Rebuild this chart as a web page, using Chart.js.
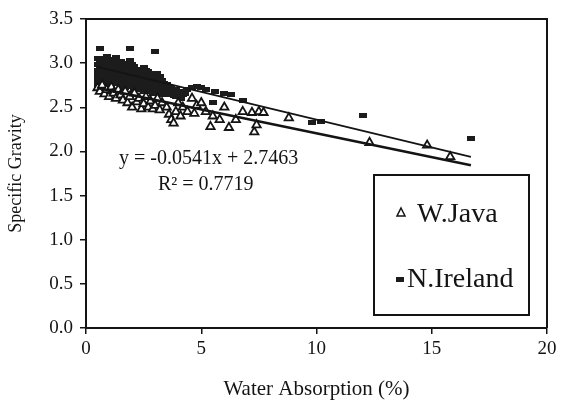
<!DOCTYPE html>
<html>
<head>
<meta charset="utf-8">
<script src="https://cdn.jsdelivr.net/npm/chart.js@4"></script>
<style>
  html, body { margin: 0; padding: 0; background: #fff; }
  #wrap { width: 562px; height: 409px; }
</style>
</head>
<body>
<div id="wrap"><canvas id="sgChart" width="562" height="409"></canvas></div>
<script>
// Specific gravity vs water absorption, W.Java and N.Ireland aggregates

const xTicks = [0, 5, 10, 15, 20];
const yTicks = [0, 0.5, 1, 1.5, 2, 2.5, 3, 3.5];

// W.Java (triangles)
const javaX = [0.5, 0.6, 0.7, 0.8, 0.9, 1.0, 1.1, 1.2, 1.3, 1.4, 1.5, 1.6, 1.7, 1.8, 1.9,
  2.0, 2.1, 2.2, 2.3, 2.4, 2.5, 2.6, 2.7, 2.8, 2.9, 3.0, 3.1, 3.2, 3.3, 3.5,
  3.6, 3.7, 3.8, 3.9, 4.0, 4.1, 4.2, 4.4, 4.6, 4.7, 4.8, 5.0, 5.2, 5.4, 5.5,
  5.8, 6.0, 6.2, 6.5, 6.8, 7.2, 7.3, 7.4, 7.5, 7.7, 8.8, 12.3, 14.8, 15.8];
const javaY = [2.72, 2.68, 2.75, 2.65, 2.70, 2.62, 2.73, 2.66, 2.60, 2.70, 2.64, 2.58, 2.68, 2.55, 2.62,
  2.50, 2.66, 2.56, 2.60, 2.48, 2.54, 2.62, 2.50, 2.57, 2.48, 2.52, 2.60, 2.47, 2.55, 2.50,
  2.42, 2.36, 2.32, 2.45, 2.55, 2.40, 2.50, 2.45, 2.60, 2.43, 2.52, 2.55, 2.45, 2.28, 2.40,
  2.36, 2.50, 2.27, 2.36, 2.45, 2.44, 2.22, 2.30, 2.45, 2.44, 2.38, 2.10, 2.07, 1.94];

// N.Ireland (dashes)
const irelandX = [0.6, 1.9, 3.0,
  0.5, 0.5, 0.5, 0.5, 0.5, 0.5,
  0.6, 0.6, 0.6, 0.6,
  0.7, 0.7, 0.7, 0.7, 0.7,
  0.8, 0.8, 0.8, 0.8, 0.8,
  0.9, 0.9, 0.9, 0.9, 0.9,
  1.0, 1.0, 1.0, 1.0,
  1.1, 1.1, 1.1, 1.1, 1.1,
  1.2, 1.2, 1.2, 1.2,
  1.3, 1.3, 1.3, 1.3, 1.3,
  1.4, 1.4, 1.4, 1.4,
  1.5, 1.5, 1.5, 1.5, 1.5,
  1.6, 1.6, 1.6, 1.6,
  1.7, 1.7, 1.7, 1.7, 1.7,
  1.8, 1.8, 1.8, 1.8,
  1.9, 1.9, 1.9, 1.9, 1.9,
  2.0, 2.0, 2.0, 2.0,
  2.1, 2.1, 2.1, 2.1, 2.1,
  2.2, 2.2, 2.2, 2.2,
  2.3, 2.3, 2.3, 2.3,
  2.4, 2.4, 2.4, 2.4,
  2.5, 2.5, 2.5, 2.5, 2.5,
  2.6, 2.6, 2.6, 2.6,
  2.7, 2.7, 2.7, 2.7,
  2.8, 2.8, 2.8, 2.8,
  2.9, 2.9, 2.9, 2.9,
  3.0, 3.0, 3.0,
  3.1, 3.1, 3.1, 3.1,
  3.2, 3.2, 3.2, 3.2,
  3.3, 3.3, 3.3,
  3.4, 3.4,
  3.5, 3.5, 3.5,
  3.6, 3.6,
  3.7, 3.7, 3.8, 3.8, 3.9, 3.9, 4.0, 4.0, 4.1, 4.1, 4.2, 4.3, 4.4,
  4.6, 4.8, 5.0, 5.2, 5.5, 5.6, 6.0, 6.3, 6.8,
  9.8, 10.2, 12.0, 16.7];
const irelandY = [3.17, 3.17, 3.13,
  3.05, 2.98, 2.92, 2.86, 2.80, 2.75,
  3.01, 2.94, 2.87, 2.81,
  3.02, 2.95, 2.88, 2.82, 2.78,
  3.05, 2.97, 2.90, 2.83, 2.77,
  3.08, 2.99, 2.93, 2.85, 2.79,
  3.00, 2.92, 2.86, 2.80,
  3.04, 2.96, 2.90, 2.84, 2.76,
  3.02, 2.95, 2.88, 2.78,
  3.06, 3.00, 2.91, 2.86, 2.80,
  2.98, 2.92, 2.84, 2.77,
  3.02, 2.95, 2.88, 2.82, 2.74,
  3.00, 2.93, 2.86, 2.79,
  2.98, 2.92, 2.85, 2.78, 2.72,
  2.96, 2.89, 2.82, 2.75,
  3.03, 2.94, 2.87, 2.80, 2.73,
  2.98, 2.91, 2.84, 2.77,
  2.96, 2.90, 2.83, 2.76, 2.70,
  2.92, 2.86, 2.78, 2.72,
  2.93, 2.86, 2.80, 2.72,
  2.90, 2.83, 2.76, 2.70,
  2.95, 2.88, 2.81, 2.74, 2.68,
  2.92, 2.86, 2.79, 2.72,
  2.90, 2.84, 2.77, 2.70,
  2.88, 2.81, 2.74, 2.68,
  2.86, 2.80, 2.73, 2.66,
  2.84, 2.78, 2.71,
  2.88, 2.82, 2.75, 2.68,
  2.85, 2.78, 2.71, 2.65,
  2.80, 2.74, 2.67,
  2.77, 2.70,
  2.76, 2.70, 2.64,
  2.74, 2.67,
  2.72, 2.66, 2.69, 2.63, 2.70, 2.62, 2.66, 2.62, 2.68, 2.60, 2.64, 2.66, 2.70,
  2.72, 2.74, 2.72, 2.70, 2.55, 2.68, 2.66, 2.64, 2.58,
  2.33, 2.34, 2.41, 2.15];

// trend lines (lower one is the labelled fit)
const fitRange = [0.5, 16.7];
const javaSlope = -0.0541, javaIntercept = 2.7463;
const irelandSlope = -0.063, irelandIntercept = 2.99;
const equationText = 'y = -0.0541x + 2.7463';
const r2Text = 'R\u00b2 = 0.7719';
const legendLabels = ['W.Java', 'N.Ireland'];

const serif = '"Liberation Serif", "Times New Roman", serif';
const ink = '#141414';

function pts(xs, ys) {
  return xs.map((x, i) => ({ x: x, y: ys[i] }));
}
function fitLine(m, b) {
  return fitRange.map(x => ({ x: x, y: m * x + b }));
}

// little dark dash used for N.Ireland points
const dash = document.createElement('canvas');
dash.width = 8;
dash.height = 5;
const dctx = dash.getContext('2d');
dctx.fillStyle = '#1c1c1c';
dctx.fillRect(0, 0, 8, 5);

const framePlugin = {
  id: 'frameAndNotes',
  afterDraw(chart) {
    const ctx = chart.ctx;
    const a = chart.chartArea;
    ctx.save();
    // top and right edges of the plot frame
    ctx.strokeStyle = ink;
    ctx.lineWidth = 2;
    ctx.beginPath();
    ctx.moveTo(a.left, a.top);
    ctx.lineTo(a.right, a.top);
    ctx.lineTo(a.right, a.bottom);
    ctx.stroke();

    // regression text
    ctx.fillStyle = ink;
    ctx.font = '20px ' + serif;
    ctx.textAlign = 'left';
    ctx.textBaseline = 'alphabetic';
    ctx.fillText(equationText, 119, 164);
    ctx.fillText(r2Text, 158, 190);

    // legend box
    ctx.lineWidth = 2;
    ctx.strokeRect(374, 175, 155, 140);
    // triangle marker
    ctx.lineWidth = 1.5;
    ctx.fillStyle = '#fff';
    ctx.beginPath();
    ctx.moveTo(401, 208);
    ctx.lineTo(405, 216);
    ctx.lineTo(397, 216);
    ctx.closePath();
    ctx.fill();
    ctx.stroke();
    ctx.drawImage(dash, 396, 277);
    ctx.fillStyle = ink;
    ctx.font = '28px ' + serif;
    ctx.fillText(legendLabels[0], 417, 222);
    ctx.fillText(legendLabels[1], 407, 287);
    ctx.restore();
  }
};

const ctx = document.getElementById('sgChart').getContext('2d');
const sgChart = new Chart(ctx, {
  type: 'scatter',
  data: {
    datasets: [
      {
        label: 'W.Java fit',
        type: 'line',
        data: fitLine(javaSlope, javaIntercept),
        borderColor: ink,
        borderWidth: 2.6,
        pointRadius: 0,
        fill: false,
        order: 0
      },
      {
        label: 'N.Ireland fit',
        type: 'line',
        data: fitLine(irelandSlope, irelandIntercept),
        borderColor: ink,
        borderWidth: 1.8,
        pointRadius: 0,
        fill: false,
        order: 0
      },
      {
        label: legendLabels[0],
        data: pts(javaX, javaY),
        pointStyle: 'triangle',
        pointRadius: 4.8,
        backgroundColor: '#fff',
        borderColor: ink,
        borderWidth: 1.8,
        order: 1
      },
      {
        label: legendLabels[1],
        data: pts(irelandX, irelandY),
        pointStyle: dash,
        order: 2
      }
    ]
  },
  options: {
    responsive: false,
    animation: false,
    layout: { padding: { top: 19, right: 15, left: 0, bottom: 0 } },
    plugins: {
      legend: { display: false },
      tooltip: { enabled: false }
    },
    scales: {
      x: {
        type: 'linear',
        min: 0,
        max: 20,
        afterFit: s => { s.height = 81; },
        afterBuildTicks: s => { s.ticks = xTicks.map(v => ({ value: v })); },
        ticks: { color: ink, font: { family: serif, size: 19 }, padding: 4 },
        grid: { drawOnChartArea: false, drawTicks: true, tickLength: 6, color: ink, lineWidth: 1.5 },
        border: { display: true, color: ink, width: 2 },
        title: {
          display: true,
          text: 'Water Absorption (%)',
          color: ink,
          font: { family: serif, size: 21 },
          padding: { top: 4, bottom: 7 }
        }
      },
      y: {
        type: 'linear',
        min: 0,
        max: 3.5,
        afterFit: s => { s.width = 86; },
        afterBuildTicks: s => { s.ticks = yTicks.map(v => ({ value: v })); },
        ticks: {
          color: ink,
          font: { family: serif, size: 19 },
          padding: 7,
          callback: v => v.toFixed(1)
        },
        grid: { drawOnChartArea: false, drawTicks: true, tickLength: 6, color: ink, lineWidth: 1.5 },
        border: { display: true, color: ink, width: 2 },
        title: {
          display: true,
          text: 'Specific Gravity',
          color: ink,
          font: { family: serif, size: 18 },
          padding: { top: 5, bottom: 4 }
        }
      }
    }
  },
  plugins: [framePlugin]
});
</script>
</body>
</html>
